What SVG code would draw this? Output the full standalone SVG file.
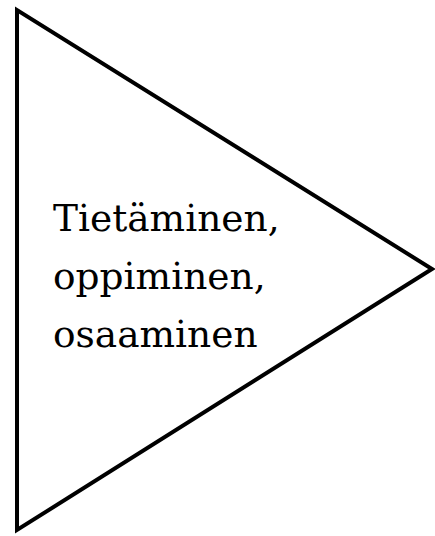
<svg xmlns="http://www.w3.org/2000/svg" width="435" height="536" viewBox="0 0 435 536">
<style>
.shape{fill:#ffffff;stroke:#000000;stroke-width:4;stroke-linejoin:miter;stroke-miterlimit:10}
.lbl{font-family:"DejaVu Serif","Liberation Serif",serif;font-size:37.5px;fill:#000000}
</style>
<rect width="435" height="536" fill="#ffffff"/>
<g id="triangle">
<polygon class="shape" points="17,10 17,530 432,269"/>
<text class="lbl" x="53" y="231">Tietäminen,</text>
<text class="lbl" x="53" y="289">oppiminen,</text>
<text class="lbl" x="53" y="347">osaaminen</text>
</g>
<g id="connectors"></g>
</svg>
